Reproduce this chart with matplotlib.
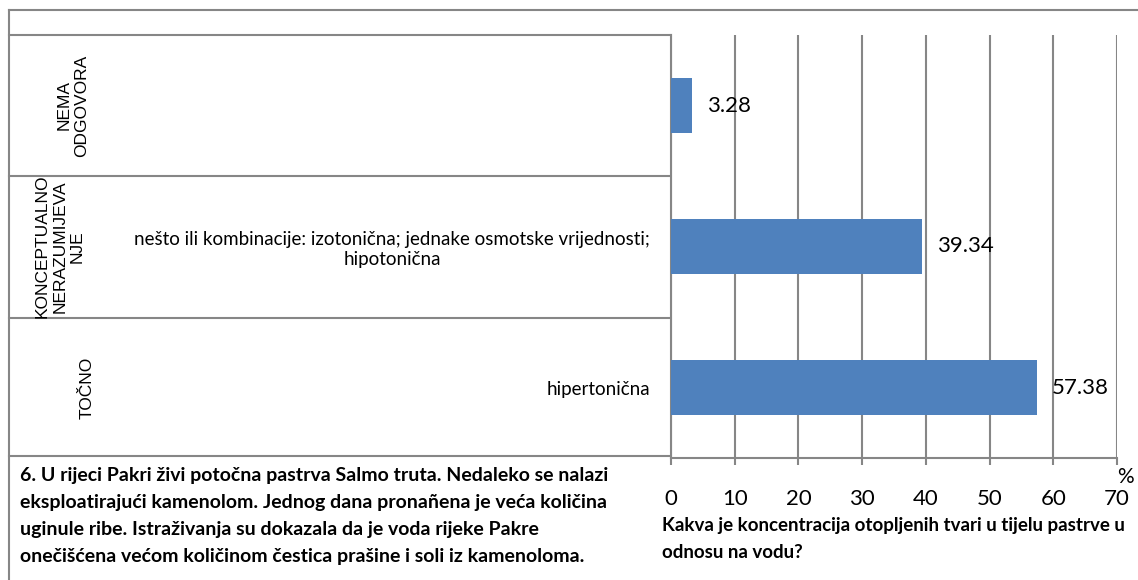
import matplotlib.pyplot as plt

# data
categories = ["TOČNO", "KONCEPTUALNO\nNERAZUMIJEVA\nNJE", "NEMA\nODGOVORA"]
answers = ["hipertonična",
           "nešto ili kombinacije: izotonična; jednake osmotske vrijednosti;\nhipotonična",
           ""]
percent = [57.38, 39.34, 3.28]
xticks = [0, 10, 20, 30, 40, 50, 60, 70]

question = ["6. U rijeci Pakri živi potočna pastrva Salmo truta. Nedaleko se nalazi",
            "eksploatirajući kamenolom. Jednog dana pronañena je veća količina",
            "uginule ribe. Istraživanja su dokazala da je voda rijeke Pakre",
            "onečišćena većom količinom čestica prašine i soli iz kamenoloma."]
xtitle = ["Kakva je koncentracija otopljenih tvari u tijelu pastrve u",
          "odnosu na vodu?"]

W, H = 1138, 580
GRID = "#868686"
BAR = "#4F81BD"
CAL = ["Lato", "DejaVu Sans"]
ARIAL = ["Liberation Sans", "DejaVu Sans"]


def main():
    fig = plt.figure(figsize=(W / 100, H / 100), dpi=100)

    # frame / table lines in pixel coordinates
    bg = fig.add_axes([0, 0, 1, 1])
    bg.set_xlim(0, W)
    bg.set_ylim(H, 0)
    bg.axis("off")
    bg.plot([9, W], [10, 10], color=GRID, lw=1.5)
    bg.plot([9, 9], [10, H], color=GRID, lw=1.5)
    for y in [35, 176, 318, 456]:
        bg.plot([9, 671], [y, y], color=GRID, lw=1.5)

    ax = fig.add_axes([671 / W, 1 - 458 / H, (1117 - 671) / W, (458 - 35) / H])
    pos = list(range(len(percent)))
    ax.barh(pos, percent, height=0.39, color=BAR, zorder=3)
    for p, v in zip(pos, percent):
        ax.annotate(f"{v:.2f}", (v, p), xytext=(11, 0), textcoords="offset points",
                    va="center", ha="left", fontsize=16, family=CAL, zorder=4)

    ax.set_xlim(0, 70)
    ax.set_ylim(-0.5, 2.5)
    ax.set_xticks(xticks)
    ax.set_xticklabels([str(t) for t in xticks], family=CAL, fontsize=16)
    ax.set_yticks(pos)
    ax.set_yticklabels(answers, family=CAL, fontsize=13.5, multialignment="center",
                       linespacing=1.25)
    ax.tick_params(axis="y", length=0, pad=15)
    ax.tick_params(axis="x", length=5, color=GRID, width=1.5, pad=17)
    ax.xaxis.grid(True, color=GRID, lw=1.5, zorder=0)
    ax.set_axisbelow(True)
    for s in ["top", "right"]:
        ax.spines[s].set_visible(False)
    for s in ["left", "bottom"]:
        ax.spines[s].set_color(GRID)
        ax.spines[s].set_linewidth(1.5)

    # category labels in the first column
    for p, c in zip(pos, categories):
        yc = 458 - (p + 0.5) * (423 / 3)
        xc = 73 if p == 2 else (60 if p == 1 else 87)
        bg.text(xc, yc, c, rotation=90, ha="center", va="center",
                multialignment="center", fontsize=12.5, family=ARIAL)

    bg.text(1125, 477, "%", ha="center", va="center", fontsize=15, family=CAL)
    for i, line in enumerate(xtitle):
        bg.text(662, 525 + 27 * i, line, ha="left", va="center", fontsize=13.5,
                fontweight="bold", family=CAL)
    for i, line in enumerate(question):
        bg.text(20, 476 + 26.7 * i, line, ha="left", va="center", fontsize=14,
                fontweight="bold", family=CAL)

    plt.savefig("out.png", dpi=100)


if __name__ == "__main__":
    main()
